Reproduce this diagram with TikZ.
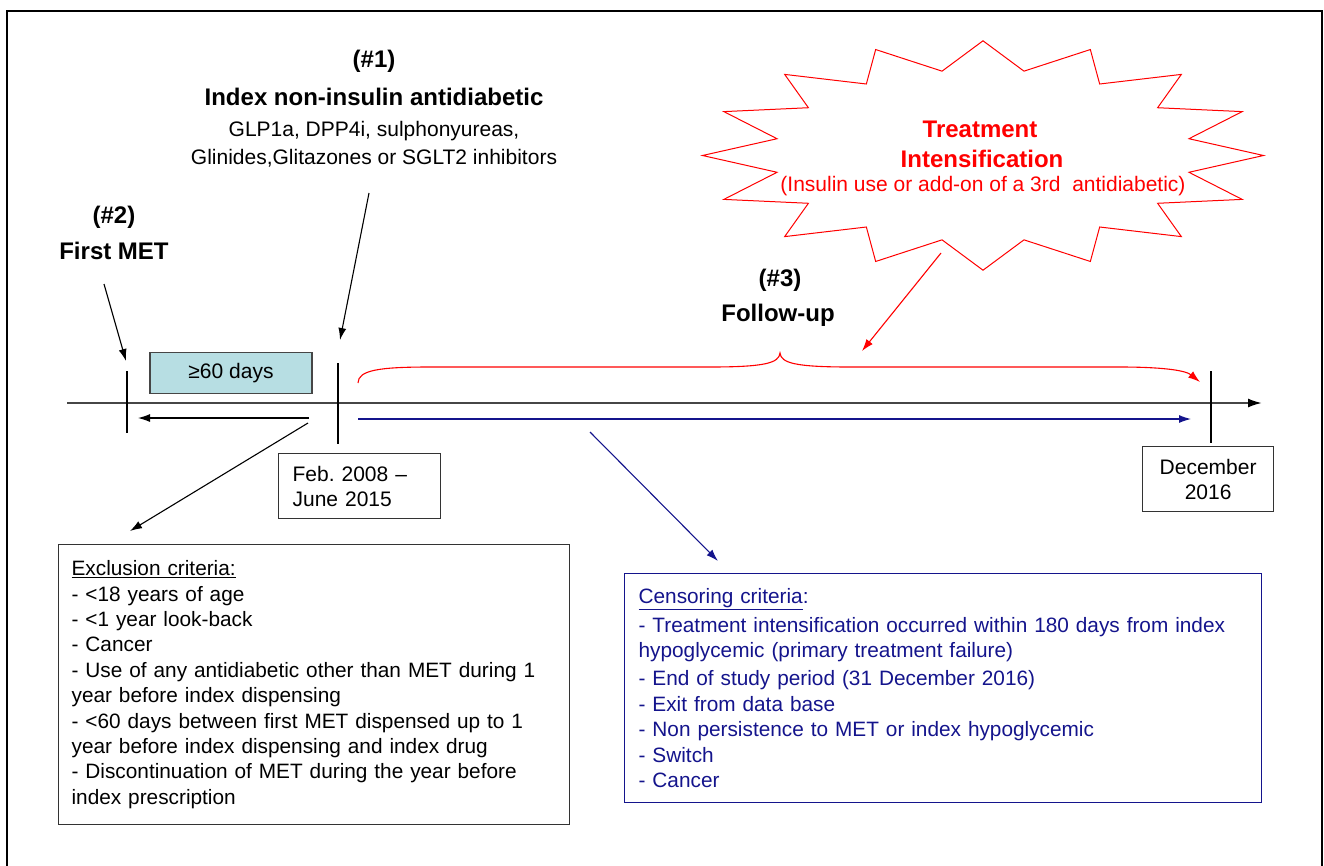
\documentclass[tikz,border=0pt]{standalone}
\usepackage{fontspec}
\setmainfont{Liberation Sans}
\usetikzlibrary{arrows.meta,calc}
\frenchspacing

\definecolor{navy}{RGB}{20,20,140}
\definecolor{daysfill}{RGB}{183,222,227}
\definecolor{axisgray}{RGB}{70,70,70}

\tikzset{
  head/.style={font=\fontsize{24}{28}\selectfont\bfseries, align=center},
  body/.style={font=\fontsize{21}{28}\selectfont, align=center},
  ptr/.style={-{Latex[length=12pt,width=8pt]}, line width=1.1pt},
  tick/.style={line width=1.2pt},
  axis/.style={-{Latex[length=14pt,width=9pt,black]}, line width=2pt, axisgray},
  daybox/.style={draw=axisgray, line width=1.2pt, fill=daysfill, minimum width=162pt,
    minimum height=41pt, font=\fontsize{21}{25}\selectfont},
  datebox/.style={draw=black!80, line width=1.2pt, minimum height=65pt,
    font=\fontsize{21}{25}\selectfont},
  listbox/.style={line width=1.2pt, align=left, font=\fontsize{20.8}{25.4}\selectfont}
}

\begin{document}
\begin{tikzpicture}[x=1pt,y=-1pt]
  \useasboundingbox (0,0) rectangle (1324,865);
  % frame
  \draw[line width=2.5pt] (7,870) -- (7,11) -- (1322,11) -- (1322,870);

  % labels on top
  \node[head] (n1) at (374,61) {(\#1)};
  \node[head] (index) at (374,97) {Index non-insulin antidiabetic};
  \node[body] (drugs) at (374,144) {GLP1a, DPP4i, sulphonyureas,\\Glinides,Glitazones or SGLT2 inhibitors};
  \node[head] (n2) at (114,217) {(\#2)};
  \node[head] (firstmet) at (114,251) {First MET};
  \node[head] (n3) at (780,280) {(\#3)};
  \node[head] (followup) at (778,315) {Follow-up};

  % starburst
  \coordinate (burst) at (983,155.5);
  \draw[red, line width=1pt, shift={(burst)}]
    plot[samples at={0,11.25,...,348.75}, variable=\a]
    ({(280.5-70.5*mod(round(\a/11.25),2))*cos(\a)}, {(114.7-28.7*mod(round(\a/11.25),2))*sin(\a)}) -- cycle;
  \node[head, text=red] (treat) at (980,129) {Treatment};
  \node[head, text=red] (intens) at (982,159) {Intensification};
  \node[body, text=red] (insulin) at (983,186) {(Insulin use or add-on of a 3rd\ \ antidiabetic)};

  % time line
  \coordinate (tl0) at (67,403);
  \coordinate (tl1) at (1262,403);
  \draw[axis] (tl0) -- (tl1);
  \draw[tick] (127,371) coordinate (mettop) -- (127,433) coordinate (metbot);
  \draw[tick] (338,363) coordinate (idxtop) -- (338,444) coordinate (idxbot);
  \draw[tick] (1211,371) coordinate (endtop) -- (1211,443) coordinate (endbot);

  \node[daybox] (days) at (231,373) {≥60 days};
  \node[datebox, anchor=north west, minimum width=162pt, text width=134pt, align=left,
    inner xsep=14pt] (feb) at (278,453) {Feb. 2008 –\\June 2015};
  \node[datebox, anchor=north west, minimum width=131pt, align=center] (dec) at (1142,446) {December\\2016};

  % boxes of criteria
  \node[listbox, draw=black!80, anchor=north west, minimum height=280pt, text width=485pt,
    inner xsep=13pt] (excl) at (58,544) {\underline{Exclusion criteria:}\\
    - <18 years of age\\
    - <1 year look-back\\
    - Cancer\\
    - Use of any antidiabetic other than MET during 1\\
    year before index dispensing\\
    - <60 days between first MET dispensed up to 1\\
    year before index dispensing and index drug\\
    - Discontinuation of MET during the year before\\
    index prescription};
  \node[listbox, draw=navy, text=navy, anchor=north west, minimum height=229pt, text width=609pt,
    inner xsep=14pt] (cens) at (624,573) {\underline{Censoring criteria}:\\[3pt]
    - Treatment intensification occurred within 180 days from index\\
    hypoglycemic (primary treatment failure)\\[3pt]
    - End of study period (31 December 2016)\\
    - Exit from data base\\
    - Non persistence to MET or index hypoglycemic\\
    - Switch\\
    - Cancer};

  % arrows
  \coordinate (metfrom) at (104,284);
  \coordinate (metto) at (126,361);
  \draw[ptr] (metfrom) -- (metto);
  \coordinate (idxfrom) at (369,193);
  \coordinate (idxto) at (340,340);
  \draw[ptr] (idxfrom) -- (idxto);
  \coordinate (backfrom) at (309,418);
  \coordinate (backto) at (138,418);
  \draw[ptr] (backfrom) -- (backto);
  \coordinate (exclfrom) at (308,423);
  \draw[ptr] (exclfrom) -- (130,531) coordinate (exclto);
  \coordinate (fufrom) at (358,419);
  \coordinate (futo) at (1191,419);
  \draw[ptr, navy] (fufrom) -- (futo);
  \coordinate (censfrom) at (590,432);
  \coordinate (censto) at (718,561);
  \draw[ptr, navy] (censfrom) -- (censto);
  \coordinate (burstfrom) at (941,253);
  \coordinate (burstto) at (862,351);
  \draw[ptr, red] (burstfrom) -- (burstto);

  % brace of the follow-up
  \coordinate (bracefrom) at (358,383);
  \coordinate (braceto) at (1200,382);
  \draw[ptr, red] (bracefrom) .. controls (358,370) and (380,367) .. (430,367)
    -- (710,367) .. controls (765,367) and (779,363) .. (780,353)
    .. controls (781,363) and (795,367) .. (850,367)
    -- (1120,367) .. controls (1160,367) and (1185,370) .. (braceto);
\end{tikzpicture}
\end{document}
